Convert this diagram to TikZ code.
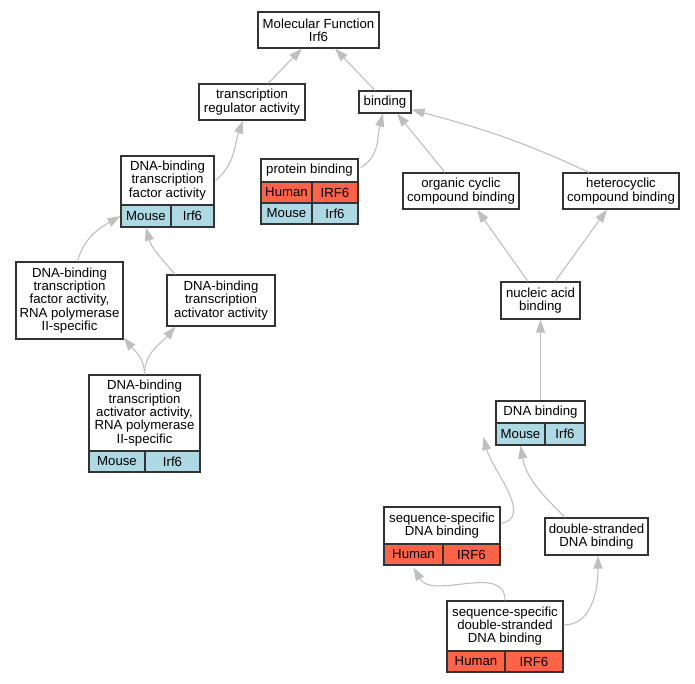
\documentclass[tikz,border=0pt]{standalone}
\usepackage{fontspec}
\setmainfont{Liberation Sans}
\usetikzlibrary{arrows.meta}
\definecolor{boxline}{rgb}{0.2, 0.2, 0.2}
\definecolor{edgegray}{rgb}{0.75, 0.75, 0.75}
\definecolor{mouseblue}{rgb}{0.68, 0.85, 0.9}
\definecolor{humanred}{rgb}{1.0, 0.39, 0.28}

\begin{document}
\begin{tikzpicture}[x=1pt,y=1pt,
  term/.style={draw=boxline,fill=white,line width=1.2pt,inner sep=0pt,align=center,font=\fontsize{13.2}{13.4}\selectfont},
  mouse/.style={term,fill=mouseblue},
  human/.style={term,fill=humanred},
  isa/.style={draw=edgegray,line width=1.1pt,-{Triangle[length=13pt,width=9pt]}}]
\useasboundingbox (0,0) rectangle (695,-683);
\node[term,minimum width=121,minimum height=36] (mf) at (318.5,-30) {Molecular Function\\Irf6};
\node[term,minimum width=106,minimum height=36] (tra) at (252,-102) {transcription\\regulator activity};
\node[term,minimum width=52,minimum height=22] (bind) at (385,-102) {binding};
\node[term,minimum width=93,minimum height=49] (dbtf) at (167.5,-180.5) {DNA-binding\\transcription\\factor activity};
\node[mouse,minimum width=50,minimum height=22] (dbtfm) at (146,-216) {Mouse};
\node[mouse,minimum width=43,minimum height=22] (dbtfi) at (192.5,-216) {Irf6};
\node[term,minimum width=97,minimum height=23] (pb) at (309.5,-170.5) {protein binding};
\node[human,minimum width=51,minimum height=21] (pbh) at (286.5,-192.5) {Human};
\node[human,minimum width=46,minimum height=21] (pbhi) at (335,-192.5) {IRF6};
\node[mouse,minimum width=51,minimum height=21] (pbm) at (286.5,-213.5) {Mouse};
\node[mouse,minimum width=46,minimum height=21] (pbmi) at (335,-213.5) {Irf6};
\node[term,minimum width=116,minimum height=36] (occ) at (461,-191) {organic cyclic\\compound binding};
\node[term,minimum width=116,minimum height=36] (hcc) at (621,-191) {heterocyclic\\compound binding};
\node[term,minimum width=79,minimum height=37] (nab) at (540.5,-300.5) {nucleic acid\\binding};
\node[term,minimum width=107,minimum height=77] (dbtf2) at (69.5,-300.5) {DNA-binding\\transcription\\factor activity,\\RNA polymerase\\II-specific};
\node[term,minimum width=108,minimum height=51] (dbta) at (221,-300.5) {DNA-binding\\transcription\\activator activity};
\node[term,minimum width=111,minimum height=76] (dbta2) at (144.5,-413) {DNA-binding\\transcription\\activator activity,\\RNA polymerase\\II-specific};
\node[mouse,minimum width=56,minimum height=21] (dbta2m) at (117,-461.5) {Mouse};
\node[mouse,minimum width=55,minimum height=21] (dbta2i) at (172.5,-461.5) {Irf6};
\node[term,minimum width=89,minimum height=22] (dnab) at (540.5,-412) {DNA binding};
\node[mouse,minimum width=49,minimum height=22] (dnabm) at (520.5,-434) {Mouse};
\node[mouse,minimum width=40,minimum height=22] (dnabi) at (565,-434) {Irf6};
\node[term,minimum width=116,minimum height=37] (ssdb) at (442,-525.5) {sequence-specific\\DNA binding};
\node[human,minimum width=59,minimum height=21] (ssdbh) at (413.5,-554.5) {Human};
\node[human,minimum width=57,minimum height=21] (ssdbi) at (471.5,-554.5) {IRF6};
\node[term,minimum width=103,minimum height=37] (dsdb) at (596.5,-536.5) {double-stranded\\DNA binding};
\node[term,minimum width=116,minimum height=50] (ssds) at (505,-626) {sequence-specific\\double-stranded\\DNA binding};
\node[human,minimum width=58,minimum height=21] (ssdsh) at (476,-661.5) {Human};
\node[human,minimum width=58,minimum height=21] (ssdsi) at (534,-661.5) {IRF6};
\draw[isa] ([xshift=16]tra.north) -- ([xshift=-16.5]mf.south);
\draw[isa] ([xshift=-10]bind.north) -- ([xshift=16.5]mf.south);
\draw[isa] ([xshift=1]dbtf.east) to[out=40,in=-110] ([xshift=-9]tra.south);
\draw[isa] ([xshift=2,yshift=3]pb.east) to[out=30,in=-105] ([xshift=-2]bind.south);
\draw[isa] ([xshift=-16]occ.north) -- ([xshift=12]bind.south);
\draw[isa] ([xshift=-32]hcc.north) to[out=155,in=-15] ([yshift=4]bind.south east);
\draw[isa] ([xshift=-12.5]nab.north) -- ([xshift=16]occ.south);
\draw[isa] ([xshift=14.5]nab.north) -- ([xshift=-14]hcc.south);
\draw[isa] (dnab.north) -- (nab.south);
\draw[isa] ([xshift=8]dbtf2.north) to[out=75,in=-150] (dbtfm.west);
\draw[isa] ([xshift=-46]dbta.north) to[out=130,in=-75] (dbtfm.south);
\draw[isa] (dbta2.north) to[out=90,in=-50] ([yshift=2]dbtf2.south east);
\draw[isa] (dbta2.north) to[out=90,in=-130] ([xshift=9]dbta.south west);
\draw[isa] ([yshift=2]ssdb.east) to[out=10,in=-75] ([xshift=-12,yshift=-3]dnabm.west);
\draw[isa] ([xshift=-31.5]dsdb.north) to[out=135,in=-80] (dnabm.south);
\draw[isa] (ssds.north) to[out=90,in=-60] ([yshift=-2]ssdbh.south);
\draw[isa] ([yshift=1]ssds.east) to[out=0,in=-90] ([xshift=1.5]dsdb.south);
\end{tikzpicture}
\end{document}
